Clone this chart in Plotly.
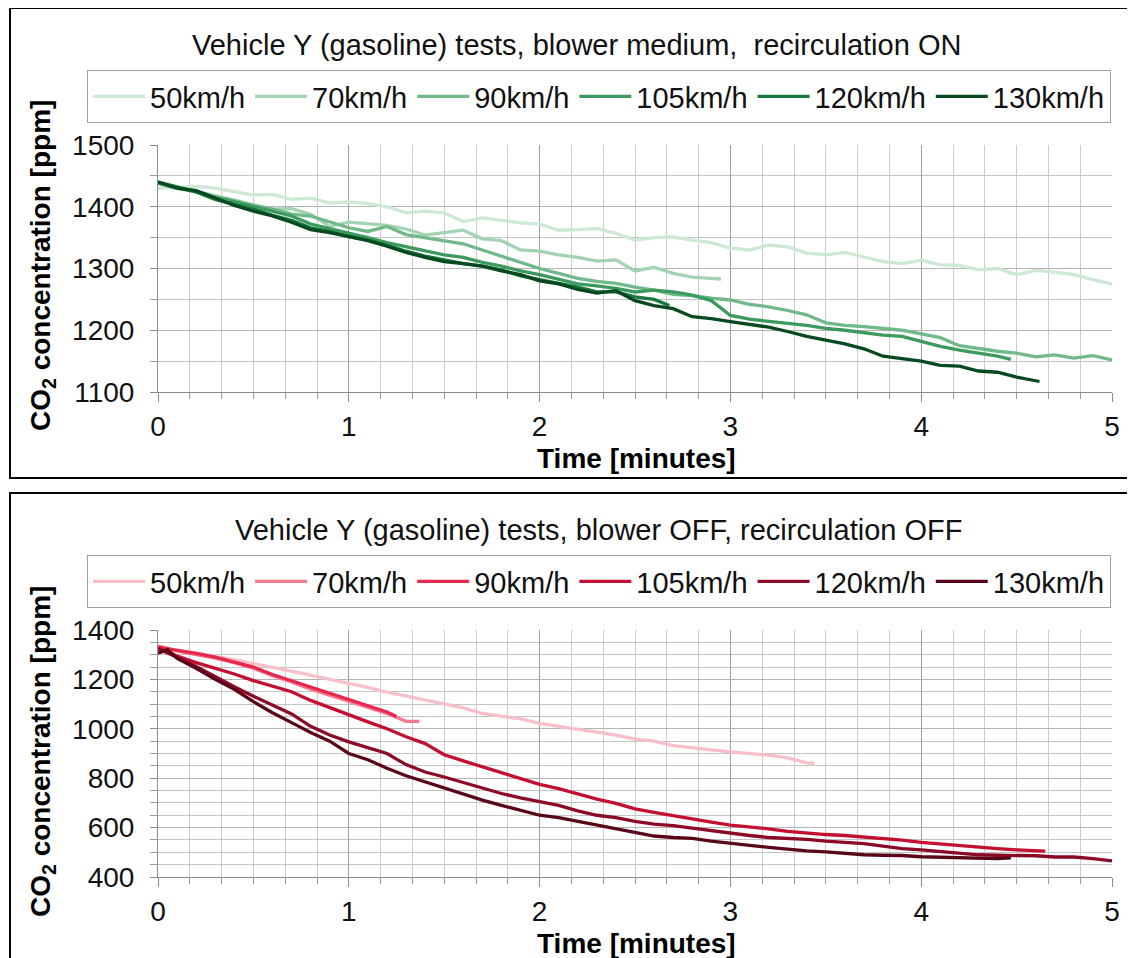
import plotly.graph_objects as go

# ---------------- data: top panel (blower medium, recirculation ON) ----------------
speeds = ["50km/h", "70km/h", "90km/h", "105km/h", "120km/h", "130km/h"]
green_colors = ["#cde8d5", "#a2d3b2", "#6fb98a", "#3c9a5f", "#16783a", "#07491f"]
red_colors = ["#f8bfca", "#f47a8d", "#e5284b", "#c30f30", "#8c0a26", "#5a0619"]

t_top_50 = [0, 0.1, 0.2, 0.3, 0.4, 0.5, 0.6, 0.7, 0.8, 0.9, 1.0, 1.1, 1.2, 1.3, 1.4, 1.5, 1.6, 1.7, 1.8, 1.9,
            2.0, 2.1, 2.2, 2.3, 2.4, 2.5, 2.6, 2.7, 2.8, 2.9, 3.0, 3.1, 3.2, 3.3, 3.4, 3.5, 3.6, 3.7, 3.8, 3.9,
            4.0, 4.1, 4.2, 4.3, 4.4, 4.5, 4.6, 4.7, 4.8, 4.9, 5.0]
co2_top_50 = [1430, 1432, 1433, 1430, 1425, 1419, 1420, 1412, 1414, 1406, 1408, 1405, 1400, 1390, 1393, 1390,
              1376, 1382, 1378, 1374, 1372, 1362, 1363, 1365, 1357, 1346, 1350, 1351, 1346, 1342, 1333, 1330,
              1338, 1335, 1325, 1322, 1326, 1318, 1311, 1308, 1313, 1306, 1305, 1298, 1300, 1290, 1297, 1294,
              1290, 1282, 1275]

t_top_70 = [0, 0.1, 0.2, 0.3, 0.4, 0.5, 0.6, 0.7, 0.8, 0.9, 1.0, 1.1, 1.2, 1.3, 1.4, 1.5, 1.6, 1.7, 1.8, 1.9,
            2.0, 2.1, 2.2, 2.3, 2.4, 2.5, 2.6, 2.7, 2.8, 2.9, 2.95]
co2_top_70 = [1440, 1432, 1425, 1418, 1410, 1403, 1396, 1397, 1388, 1368, 1375, 1372, 1370, 1364, 1354, 1358,
              1362, 1348, 1345, 1330, 1328, 1322, 1318, 1312, 1314, 1296, 1302, 1292, 1286, 1284, 1283]

t_top_90 = t_top_50
co2_top_90 = [1440, 1430, 1424, 1416, 1410, 1402, 1396, 1388, 1385, 1376, 1366, 1360, 1368, 1355, 1350, 1345,
              1340, 1330, 1320, 1310, 1300, 1292, 1284, 1279, 1276, 1270, 1265, 1258, 1256, 1252, 1249, 1242,
              1238, 1232, 1225, 1212, 1208, 1206, 1203, 1200, 1194, 1188, 1175, 1170, 1166, 1163, 1157, 1160,
              1155, 1159, 1152]

t_top_105 = [0, 0.1, 0.2, 0.3, 0.4, 0.5, 0.6, 0.7, 0.8, 0.9, 1.0, 1.1, 1.2, 1.3, 1.4, 1.5, 1.6, 1.7, 1.8, 1.9,
             2.0, 2.1, 2.2, 2.3, 2.4, 2.5, 2.6, 2.7, 2.8, 2.9, 3.0, 3.1, 3.2, 3.3, 3.4, 3.5, 3.6, 3.7, 3.8, 3.9,
             4.0, 4.1, 4.2, 4.3, 4.4, 4.47]
co2_top_105 = [1438, 1430, 1425, 1415, 1408, 1400, 1392, 1385, 1372, 1365, 1358, 1350, 1342, 1335, 1328, 1322,
               1318, 1310, 1304, 1296, 1290, 1282, 1275, 1272, 1268, 1262, 1265, 1262, 1257, 1248, 1224, 1218,
               1214, 1211, 1208, 1203, 1200, 1196, 1192, 1190, 1182, 1174, 1168, 1163, 1158, 1153]

t_top_120 = [0, 0.1, 0.2, 0.3, 0.4, 0.5, 0.6, 0.7, 0.8, 0.9, 1.0, 1.1, 1.2, 1.3, 1.4, 1.5, 1.6, 1.7, 1.8, 1.9,
             2.0, 2.1, 2.2, 2.3, 2.4, 2.5, 2.6, 2.68]
co2_top_120 = [1440, 1432, 1424, 1412, 1404, 1396, 1386, 1378, 1366, 1360, 1352, 1346, 1338, 1328, 1320, 1314,
               1308, 1304, 1298, 1288, 1282, 1276, 1270, 1262, 1262, 1254, 1250, 1240]

t_top_130 = [0, 0.1, 0.2, 0.3, 0.4, 0.5, 0.6, 0.7, 0.8, 0.9, 1.0, 1.1, 1.2, 1.3, 1.4, 1.5, 1.6, 1.7, 1.8, 1.9,
             2.0, 2.1, 2.2, 2.3, 2.4, 2.5, 2.6, 2.7, 2.8, 2.9, 3.0, 3.1, 3.2, 3.3, 3.4, 3.5, 3.6, 3.7, 3.8, 3.9,
             4.0, 4.1, 4.2, 4.3, 4.4, 4.5, 4.62]
co2_top_130 = [1440, 1430, 1426, 1414, 1402, 1393, 1385, 1375, 1363, 1358, 1352, 1345, 1336, 1326, 1318, 1311,
               1308, 1304, 1296, 1290, 1280, 1275, 1266, 1260, 1264, 1248, 1240, 1235, 1222, 1219, 1214, 1210,
               1205, 1198, 1190, 1184, 1178, 1170, 1158, 1154, 1150, 1143, 1142, 1134, 1132, 1124, 1117]

# ---------------- data: bottom panel (blower OFF, recirculation OFF) ----------------
t_bot_50 = [0, 0.1, 0.2, 0.3, 0.4, 0.5, 0.6, 0.7, 0.8, 0.9, 1.0, 1.1, 1.2, 1.3, 1.4, 1.5, 1.6, 1.7, 1.8, 1.9,
            2.0, 2.1, 2.2, 2.3, 2.4, 2.5, 2.6, 2.7, 2.8, 2.9, 3.0, 3.1, 3.2, 3.3, 3.4, 3.44]
co2_bot_50 = [1332, 1320, 1308, 1293, 1280, 1265, 1248, 1232, 1217, 1200, 1184, 1168, 1148, 1132, 1118, 1100,
              1085, 1062, 1052, 1040, 1022, 1010, 998, 985, 974, 958, 950, 932, 925, 915, 907, 900, 893, 882,
              862, 860]

t_bot_70 = [0, 0.1, 0.2, 0.3, 0.4, 0.5, 0.6, 0.7, 0.8, 0.9, 1.0, 1.1, 1.2, 1.3, 1.37]
co2_bot_70 = [1336, 1315, 1300, 1286, 1268, 1245, 1215, 1190, 1160, 1135, 1110, 1085, 1062, 1030, 1030]

t_bot_90 = [0, 0.1, 0.2, 0.3, 0.4, 0.5, 0.6, 0.7, 0.8, 0.9, 1.0, 1.1, 1.2, 1.25]
co2_bot_90 = [1330, 1318, 1305, 1290, 1270, 1250, 1220, 1195, 1168, 1142, 1118, 1095, 1068, 1050]

t_bot_105 = [0, 0.1, 0.2, 0.3, 0.4, 0.5, 0.6, 0.7, 0.8, 0.9, 1.0, 1.1, 1.2, 1.3, 1.4, 1.5, 1.6, 1.7, 1.8, 1.9,
             2.0, 2.1, 2.2, 2.3, 2.4, 2.5, 2.6, 2.7, 2.8, 2.9, 3.0, 3.1, 3.2, 3.3, 3.4, 3.5, 3.6, 3.7, 3.8, 3.9,
             4.0, 4.1, 4.2, 4.3, 4.4, 4.5, 4.6, 4.65]
co2_bot_105 = [1328, 1295, 1268, 1245, 1222, 1195, 1172, 1150, 1115, 1085, 1055, 1028, 1000, 968, 940, 895,
               870, 846, 822, 800, 775, 758, 736, 715, 698, 676, 662, 648, 636, 622, 610, 603, 595, 585, 578,
               572, 568, 562, 555, 549, 540, 533, 528, 522, 515, 510, 505, 505]

t_bot_120 = [0, 0.1, 0.2, 0.3, 0.4, 0.5, 0.6, 0.7, 0.8, 0.9, 1.0, 1.1, 1.2, 1.3, 1.4, 1.5, 1.6, 1.7, 1.8, 1.9,
             2.0, 2.1, 2.2, 2.3, 2.4, 2.5, 2.6, 2.7, 2.8, 2.9, 3.0, 3.1, 3.2, 3.3, 3.4, 3.5, 3.6, 3.7, 3.8, 3.9,
             4.0, 4.1, 4.2, 4.3, 4.4, 4.5, 4.6, 4.7, 4.8, 4.9, 5.0]
co2_bot_120 = [1324, 1290, 1252, 1210, 1170, 1132, 1095, 1060, 1010, 975, 947, 925, 900, 855, 825, 805, 782,
               758, 738, 720, 705, 690, 668, 650, 640, 625, 614, 608, 598, 588, 576, 568, 560, 557, 552, 545,
               540, 535, 525, 515, 510, 503, 495, 490, 488, 488, 486, 481, 481, 474, 465]

t_bot_130 = [0, 0.05, 0.1, 0.2, 0.3, 0.4, 0.5, 0.6, 0.7, 0.8, 0.9, 1.0, 1.1, 1.2, 1.3, 1.4, 1.5, 1.6, 1.7, 1.8,
             1.9, 2.0, 2.1, 2.2, 2.3, 2.4, 2.5, 2.6, 2.7, 2.8, 2.9, 3.0, 3.1, 3.2, 3.3, 3.4, 3.5, 3.6, 3.7, 3.8,
             3.9, 4.0, 4.1, 4.2, 4.3, 4.4, 4.47]
co2_bot_130 = [1306, 1320, 1285, 1245, 1200, 1160, 1110, 1065, 1025, 985, 950, 900, 875, 840, 810, 785, 762,
               735, 711, 690, 670, 650, 640, 625, 610, 596, 580, 566, 560, 556, 545, 535, 528, 520, 512, 506,
               502, 496, 490, 488, 487, 482, 480, 476, 474, 474, 478]

top_series = [(t_top_50, co2_top_50), (t_top_70, co2_top_70), (t_top_90, co2_top_90),
              (t_top_105, co2_top_105), (t_top_120, co2_top_120), (t_top_130, co2_top_130)]
bot_series = [(t_bot_50, co2_bot_50), (t_bot_70, co2_bot_70), (t_bot_90, co2_bot_90),
              (t_bot_105, co2_bot_105), (t_bot_120, co2_bot_120), (t_bot_130, co2_bot_130)]

title_top = "Vehicle Y (gasoline) tests, blower medium,  recirculation ON"
title_bot = "Vehicle Y (gasoline) tests, blower OFF, recirculation OFF"
x_title = "<b>Time [minutes]</b>"
y_title = "<b>CO<sub>2</sub> concentration [ppm]</b>"

# the page body adds an 8px margin, so the figure is sized/positioned to compensate
OFF = 8
W, H = 1135 - OFF, 958 - OFF
FONT = "Liberation Sans, Arial, sans-serif"
FS = 28


def px_x(p):
    return (p - OFF) / W


def px_y(p):
    return 1 - (p - OFF) / H


fig = go.Figure()

for (t, v), name, col in zip(top_series, speeds, green_colors):
    fig.add_trace(go.Scatter(x=t, y=v, mode="lines", name=name, line=dict(color=col, width=3.3),
                             xaxis="x", yaxis="y", legend="legend"))
for (t, v), name, col in zip(bot_series, speeds, red_colors):
    fig.add_trace(go.Scatter(x=t, y=v, mode="lines", name=name, line=dict(color=col, width=3.3),
                             xaxis="x2", yaxis="y2", legend="legend2"))

xdom = [px_x(158), px_x(1112)]


def xaxis_cfg(anchor):
    return dict(
        domain=xdom, anchor=anchor, range=[0, 5], dtick=1, tick0=0,
        showgrid=True, gridcolor="#9e9e9e", gridwidth=1,
        showline=True, linecolor="#8c8c8c", linewidth=1,
        ticks="outside", ticklen=9, tickcolor="#8c8c8c",
        tickfont=dict(family=FONT, size=FS, color="#111"), ticklabelstandoff=0,
        minor=dict(dtick=1 / 6, showgrid=True, gridcolor="#cccccc", gridwidth=1,
                   ticks="outside", ticklen=6, tickcolor="#9a9a9a"),
        zeroline=False, mirror=False, fixedrange=True, automargin=False,
    )


def yaxis_cfg(anchor, dom, rng, dt):
    return dict(
        domain=dom, anchor=anchor, range=rng, dtick=dt, tick0=0,
        showgrid=True, gridcolor="#b4b4b4", gridwidth=1,
        showline=True, linecolor="#8c8c8c", linewidth=1,
        ticks="outside", ticklen=7, tickcolor="#8c8c8c",
        tickfont=dict(family=FONT, size=FS, color="#111"), ticklabelstandoff=10,
        minor=dict(dtick=50, showgrid=True, gridcolor="#c4c4c4", gridwidth=1,
                   ticks="outside", ticklen=7, tickcolor="#9a9a9a"),
        zeroline=False, fixedrange=True, automargin=False,
    )


legend_common = dict(orientation="h", xanchor="left", yanchor="top",
                     bordercolor="#a0a0a0", borderwidth=1, bgcolor="white",
                     font=dict(family=FONT, size=29, color="#111"), itemwidth=52,
                     tracegroupgap=0)

fig.update_layout(
    width=W, height=H,
    margin=dict(l=0, r=0, t=0, b=0, autoexpand=False),
    paper_bgcolor="white", plot_bgcolor="white",
    font=dict(family=FONT, color="#111"),
    xaxis=xaxis_cfg("y"),
    yaxis=yaxis_cfg("x", [px_y(392), px_y(145)], [1100, 1500], 100),
    xaxis2=xaxis_cfg("y2"),
    yaxis2=yaxis_cfg("x2", [px_y(877), px_y(630)], [400, 1400], 200),
    legend=dict(x=px_x(87), y=px_y(70), **legend_common),
    legend2=dict(x=px_x(87), y=px_y(555), **legend_common),
    shapes=[
        dict(type="rect", xref="paper", yref="paper", x0=px_x(10), x1=px_x(1133), y0=px_y(478), y1=px_y(8),
             line=dict(color="#000", width=2), fillcolor="rgba(0,0,0,0)", layer="above"),
        dict(type="rect", xref="paper", yref="paper", x0=px_x(10), x1=px_x(1133), y0=px_y(975), y1=px_y(493),
             line=dict(color="#000", width=2), fillcolor="rgba(0,0,0,0)", layer="above"),
    ],
    annotations=[
        dict(text=title_top, xref="paper", yref="paper", x=px_x(576), y=px_y(45), showarrow=False,
             xanchor="center", yanchor="middle", font=dict(family=FONT, size=29, color="#111")),
        dict(text=title_bot, xref="paper", yref="paper", x=px_x(598), y=px_y(530), showarrow=False,
             xanchor="center", yanchor="middle", font=dict(family=FONT, size=29, color="#111")),
        dict(text=x_title, xref="paper", yref="paper", x=px_x(636), y=px_y(459), showarrow=False,
             xanchor="center", yanchor="middle", font=dict(family=FONT, size=28, color="#000")),
        dict(text=x_title, xref="paper", yref="paper", x=px_x(636), y=px_y(943), showarrow=False,
             xanchor="center", yanchor="middle", font=dict(family=FONT, size=28, color="#000")),
        dict(text=y_title, xref="paper", yref="paper", x=px_x(42), y=px_y(266), showarrow=False,
             textangle=-90, xanchor="center", yanchor="middle", font=dict(family=FONT, size=28, color="#000")),
        dict(text=y_title, xref="paper", yref="paper", x=px_x(42), y=px_y(752), showarrow=False,
             textangle=-90, xanchor="center", yanchor="middle", font=dict(family=FONT, size=28, color="#000")),
    ],
    showlegend=True,
)

fig.write_html("out.html")
